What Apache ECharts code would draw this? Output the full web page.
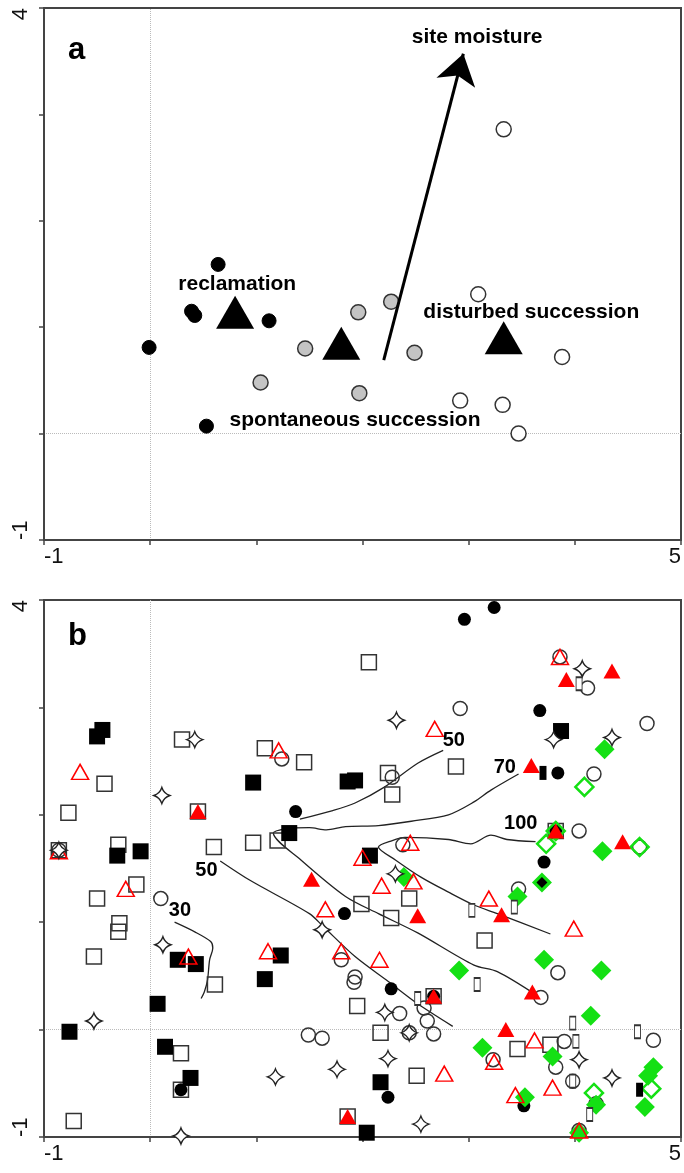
<!DOCTYPE html>
<html>
<head>
<meta charset="utf-8">
<script src="https://cdn.jsdelivr.net/npm/echarts@6/dist/echarts.min.js"></script>
</head>
<body style="margin:0">
<div id="main" style="width:684px;height:1173px"></div>
<script>
// ---- panel a : site scores and centroids ----
var reclamationSites = [[0.64,1.59],[0.39,1.15],[0.42,1.11],[1.12,1.06],[-0.01,0.81],[0.53,0.07]];
var spontaneousSites = [[1.96,1.14],[2.27,1.24],[1.46,0.80],[1.04,0.48],[1.97,0.38],[2.49,0.76]];
var disturbedSites = [[3.33,2.86],[3.09,1.31],[3.88,0.72],[2.92,0.31],[3.32,0.27],[3.47,0.00]];
var centroids = [[0.80,1.14],[1.80,0.85],[3.33,0.90]];
var moistureVector = [[2.20,0.69],[2.95,3.57]];
var groupNames = ['reclamation', 'spontaneous succession', 'disturbed succession', 'site moisture'];
var groupLabelAt = [[0.82,1.40],[1.93,0.13],[3.59,1.14],[3.08,3.73]];

// ---- panel b : species scores ----
var filledSquares = [[-0.45,2.79],[-0.50,2.73],[-0.31,1.62],[-0.09,1.66],[0.97,2.30],[1.31,1.83],[1.86,2.31],[1.93,2.32],
  [2.07,1.62],[3.87,2.78],[0.26,0.65],[0.43,0.61],[1.08,0.47],[0.07,0.24],[-0.76,-0.02],[0.14,-0.16],[0.38,-0.45],
  [1.23,0.69],[2.17,-0.49],[2.04,-0.96]];
var openSquares = [[-0.77,2.02],[-0.43,2.29],[0.30,2.70],[1.08,2.62],[0.45,2.03],[0.60,1.70],[0.97,1.74],[-0.86,1.67],
  [-0.30,1.72],[-0.13,1.35],[-0.50,1.22],[-0.29,0.99],[-0.30,0.91],[-0.53,0.68],[0.61,0.42],[0.29,-0.22],[0.29,-0.56],
  [-0.72,-0.85],[2.06,3.42],[1.45,2.49],[2.88,2.45],[2.24,2.39],[2.28,2.19],[1.20,1.76],[3.82,1.85],[3.15,0.83],
  [2.44,1.22],[1.99,1.17],[2.27,1.04],[1.95,0.22],[2.67,0.31],[2.17,-0.03],[2.51,-0.43],[1.86,-0.81],[3.46,-0.18],[3.77,-0.14]];
var openTriangles = [[-0.66,2.40],[-0.86,1.66],[-0.23,1.31],[0.36,0.68],[1.11,0.73],[1.21,2.60],[2.68,2.80],[2.00,1.60],
  [2.45,1.74],[3.86,3.47],[2.18,1.34],[2.48,1.38],[1.65,1.12],[1.80,0.73],[2.16,0.65],[2.77,-0.41],[3.19,1.22],
  [3.99,0.94],[3.62,-0.10],[3.24,-0.30],[3.79,-0.54],[3.44,-0.61],[4.04,-0.94]];
var filledTriangles = [[0.45,2.03],[1.52,1.40],[4.35,3.34],[3.92,3.26],[3.59,2.46],[3.82,1.85],[4.45,1.75],[2.52,1.06],
  [2.67,0.31],[3.31,1.07],[3.60,0.35],[3.35,0.00],[1.86,-0.81]];
var filledCircles = [[2.96,3.82],[3.24,3.93],[3.67,2.97],[3.84,2.39],[1.37,2.03],[3.82,1.85],[3.71,1.56],[1.83,1.08],
  [2.27,0.38],[2.67,0.31],[2.24,-0.63],[0.29,-0.56],[3.53,-0.63],[3.52,-0.71]];
var openCircles = [[0.10,1.22],[2.92,2.99],[1.24,2.52],[2.28,2.35],[3.86,3.47],[4.12,3.18],[4.68,2.85],[4.18,2.38],
  [4.04,1.85],[4.61,1.70],[2.38,1.72],[3.47,1.31],[1.80,0.65],[1.93,0.49],[1.92,0.44],[2.35,0.15],[2.58,0.20],
  [2.61,0.08],[1.49,-0.05],[1.62,-0.08],[2.44,-0.03],[2.67,-0.04],[3.84,0.53],[3.68,0.30],[4.74,-0.10],[3.90,-0.11],
  [3.23,-0.28],[3.82,-0.35],[3.98,-0.48],[4.20,-0.69],[4.04,-0.94],[-0.86,1.67]];
var stars = [[0.42,2.70],[0.11,2.18],[-0.86,1.67],[2.32,2.88],[4.07,3.36],[3.80,2.70],[4.35,2.72],[0.12,0.79],
  [-0.53,0.08],[0.29,-0.99],[2.31,1.45],[1.62,0.93],[2.21,0.16],[2.44,-0.03],[2.24,-0.27],[1.76,-0.37],[1.18,-0.44],
  [2.55,-0.88],[4.04,-0.28],[4.35,-0.45]];
var filledDiamonds = [[4.28,2.61],[4.26,1.66],[3.69,1.37],[3.46,1.24],[2.39,1.42],[3.71,0.65],[4.25,0.55],[2.91,0.55],
  [4.15,0.13],[3.13,-0.17],[3.79,-0.25],[4.74,-0.35],[4.69,-0.43],[4.66,-0.72],[3.53,-0.63],[4.20,-0.70],[4.04,-0.96]];
var openDiamonds = [[4.09,2.26],[3.82,1.85],[3.73,1.73],[4.61,1.70],[4.72,-0.55],[4.18,-0.59]];
var blackDiamonds = [[3.69,1.37]];
var openBars = [[4.04,3.22],[3.03,1.11],[3.43,1.14],[3.08,0.42],[2.52,0.29],[3.98,0.06],[4.59,-0.02],[4.01,-0.11],
  [3.98,-0.48],[4.14,-0.79]];
var filledBars = [[3.70,2.39],[4.61,-0.56]];

// isolines
var contour30 = [[0.23,1.00],[0.42,0.91],[0.57,0.82],[0.59,0.76],[0.56,0.65],[0.54,0.46],[0.51,0.35],[0.48,0.29]];
var contour50Low = [[0.66,1.57],[0.94,1.39],[1.50,1.08],[1.63,0.96],[1.93,0.68],[2.24,0.45],[2.52,0.24],[2.85,0.03]];
var contour50High = [[2.76,2.60],[2.52,2.48],[2.21,2.26],[1.93,2.11],[1.72,2.04],[1.41,1.96]];
var contour70 = [[3.47,2.38],[3.21,2.23],[3.05,2.12],[2.81,2.00],[2.46,1.94],[2.15,1.90],[1.84,1.89],[1.66,1.86],
  [1.50,1.88],[1.28,1.87],[1.16,1.83],[1.42,1.58],[1.84,1.24],[2.15,1.08],[2.52,0.90],[3.05,0.60],[3.27,0.54],[3.64,0.32]];
var contour100 = [[3.63,1.75],[3.36,1.77],[3.21,1.81],[3.02,1.73],[2.81,1.77],[2.40,1.79],[2.28,1.76],[2.15,1.70],
  [2.31,1.58],[2.55,1.42],[2.81,1.28],[3.05,1.16],[3.27,1.08],[3.77,0.89]];
var contourValues = ['30', '50', '50', '70', '100'];
var contourLabelAt = [[0.28,1.11],[0.53,1.48],[2.86,2.69],[3.34,2.44],[3.49,1.92]];

var FONT = 'Liberation Sans';
var starPath = 'path://M0,-10 Q2.5,-2.5 10,0 Q2.5,2.5 0,10 Q-2.5,2.5 -10,0 Q-2.5,-2.5 0,-10 Z';
var GREEN = '#14e014';
var RED = '#ff0000';

function xAxisFor(g) {
  return {
    type: 'value', gridIndex: g, min: -1, max: 5, interval: 1,
    axisLine: { onZero: false, lineStyle: { color: '#444', width: 2 } },
    axisTick: { length: 5, lineStyle: { color: '#444', width: 1.5 } },
    splitLine: { show: false },
    axisLabel: {
      fontSize: 22, color: '#111', fontFamily: FONT, margin: 6,
      alignMinLabel: 'left', alignMaxLabel: 'right',
      formatter: function (v) { return (v === -1 || v === 5) ? String(v) : ''; }
    }
  };
}
function yAxisFor(g) {
  return {
    type: 'value', gridIndex: g, min: -1, max: 4, interval: 1,
    axisLine: { onZero: false, lineStyle: { color: '#444', width: 2 } },
    axisTick: { length: 5, lineStyle: { color: '#444', width: 1.5 } },
    splitLine: { show: false },
    axisLabel: {
      fontSize: 22, color: '#111', fontFamily: FONT, margin: 12, rotate: 90,
      alignMinLabel: 'left', alignMaxLabel: 'right',
      formatter: function (v) { return (v === -1 || v === 4) ? String(v) : ''; }
    }
  };
}
// dotted reference lines through the origin, drawn under the marks
function zeroLines(g) {
  return {
    type: 'scatter', xAxisIndex: g, yAxisIndex: g, data: [], silent: true, z: 0,
    markLine: {
      silent: true, symbol: 'none', label: { show: false }, z: 0,
      lineStyle: { type: 'dotted', color: '#bbbbbb', width: 1 },
      data: [{ xAxis: 0 }, { yAxis: 0 }]
    }
  };
}
function dots(g, data, symbol, size, fill, stroke, bw, z) {
  return {
    type: 'scatter', xAxisIndex: g, yAxisIndex: g, data: data, symbol: symbol, symbolSize: size,
    clip: false, silent: true, z: z || 2,
    itemStyle: { color: fill, borderColor: stroke, borderWidth: bw, opacity: 1 }
  };
}
function isoline(data) {
  return {
    type: 'line', xAxisIndex: 1, yAxisIndex: 1, data: data, showSymbol: false, smooth: 0.3,
    silent: true, z: 1, lineStyle: { color: '#222', width: 1.3 }
  };
}
function textSeries(g, names, at, size) {
  return {
    type: 'scatter', xAxisIndex: g, yAxisIndex: g, symbolSize: 0, silent: true, z: 10,
    itemStyle: { opacity: 1 },
    data: names.map(function (n, i) { return { name: n, value: at[i] }; }),
    label: {
      show: true, position: 'inside', formatter: '{b}', opacity: 1,
      fontFamily: FONT, fontWeight: 'bold', fontSize: size, color: '#000'
    }
  };
}

var chart = echarts.init(document.getElementById('main'));
var NONE = 'rgba(0,0,0,0)';

var seriesA = [
  zeroLines(0),
  dots(0, reclamationSites, 'circle', 14, '#000', '#000', 1),
  dots(0, spontaneousSites, 'circle', 15, '#c4c4c4', '#333', 1.5),
  dots(0, disturbedSites, 'circle', 15, '#fff', '#333', 1.5),
  dots(0, centroids, 'triangle', [38, 33], '#000', '#000', 0, 3),
  {
    type: 'scatter', xAxisIndex: 0, yAxisIndex: 0, data: [], silent: true, z: 4,
    markLine: {
      silent: true, symbol: ['none', 'arrow'], symbolSize: 30,
      label: { show: false },
      lineStyle: { type: 'solid', color: '#000', width: 3, opacity: 1 },
      data: [[{ coord: moistureVector[0] }, { coord: moistureVector[1] }]]
    }
  },
  textSeries(0, groupNames, groupLabelAt, 21)
];

var seriesB = [
  zeroLines(1),
  isoline(contour30), isoline(contour50Low), isoline(contour50High), isoline(contour70), isoline(contour100),
  dots(1, openSquares, 'rect', 15, NONE, '#333', 1.5, 2),
  dots(1, filledSquares, 'rect', 16, '#000', '#000', 0, 3),
  dots(1, openCircles, 'circle', 14, NONE, '#333', 1.5, 4),
  dots(1, filledCircles, 'circle', 13, '#000', '#000', 0, 4),
  dots(1, filledDiamonds, 'diamond', 20, GREEN, GREEN, 0, 5),
  dots(1, openDiamonds, 'diamond', 18, NONE, GREEN, 2.5, 5),
  dots(1, blackDiamonds, 'diamond', 11, '#000', '#000', 0, 6),
  dots(1, openTriangles, 'triangle', [17, 15], NONE, RED, 1.5, 6),
  dots(1, filledTriangles, 'triangle', [17, 15], RED, RED, 0, 6),
  dots(1, stars, starPath, 16, '#fff', '#222', 1.4, 7),
  dots(1, openBars, 'rect', [6, 13], '#fff', '#333', 1.3, 7),
  dots(1, filledBars, 'rect', [7, 14], '#000', '#000', 0, 7),
  textSeries(1, contourValues, contourLabelAt, 20)
];

chart.setOption({
  animation: false,
  backgroundColor: '#fff',
  grid: [
    { left: 44, top: 8, width: 646, height: 532, show: true, borderColor: '#444', borderWidth: 2, backgroundColor: NONE },
    { left: 44, top: 600, width: 646, height: 537, show: true, borderColor: '#444', borderWidth: 2, backgroundColor: NONE }
  ],
  xAxis: [xAxisFor(0), xAxisFor(1)],
  yAxis: [yAxisFor(0), yAxisFor(1)],
  graphic: [
    { type: 'text', left: 68, top: 35, style: { text: 'a', fontFamily: FONT, fontWeight: 'bold', fontSize: 31, fill: '#000' } },
    { type: 'text', left: 68, top: 621, style: { text: 'b', fontFamily: FONT, fontWeight: 'bold', fontSize: 31, fill: '#000' } }
  ],
  series: seriesA.concat(seriesB)
});
</script>
</body>
</html>
